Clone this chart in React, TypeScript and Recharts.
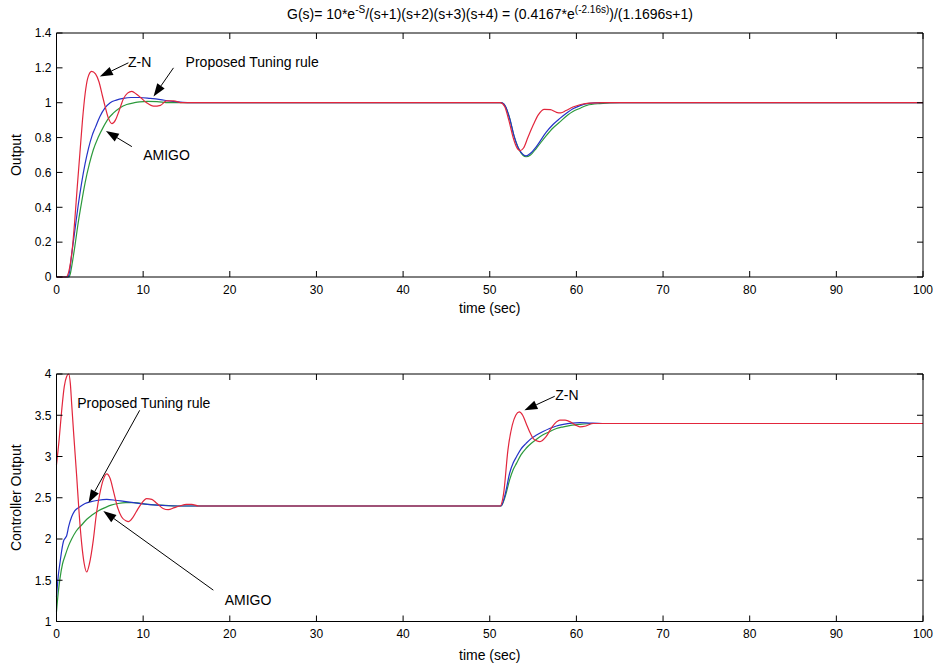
import React from 'react'
import { LineChart, Line, XAxis, YAxis, ReferenceLine, ReferenceDot } from 'recharts'

// time (sec) / value pairs
const outZN: [number, number][] = [
  [0, 0], [1.1, 0], [1.5, 0.05], [1.8, 0.15], [2.1, 0.32], [2.4, 0.52], [2.7, 0.71], [3.0, 0.9],
  [3.3, 1.05], [3.6, 1.14], [4.05, 1.18], [4.5, 1.165], [4.9, 1.12], [5.3, 1.04], [5.6, 0.98],
  [6.0, 0.91], [6.4, 0.88], [6.8, 0.9], [7.2, 0.95], [7.7, 1.02], [8.2, 1.055], [8.7, 1.065],
  [9.2, 1.05], [9.7, 1.03], [10.4, 1.0], [11.2, 0.98], [12.0, 0.985], [12.7, 1.01], [13.5, 1.01],
  [14.5, 1.0], [51.2, 1.0], [51.7, 0.98], [52.2, 0.9], [52.7, 0.8], [53.1, 0.745], [53.5, 0.725],
  [53.9, 0.74], [54.4, 0.8], [55.0, 0.87], [55.6, 0.93], [56.3, 0.962], [57.0, 0.96], [57.7, 0.945],
  [58.2, 0.942], [58.8, 0.955], [59.6, 0.975], [60.5, 0.99], [61.5, 0.998], [63, 1.0], [100, 1.0],
]
const outProposed: [number, number][] = [
  [0, 0], [1.3, 0], [1.5, 0.03], [1.75, 0.13], [2.1, 0.26], [2.5, 0.41], [2.9, 0.54], [3.3, 0.65],
  [3.7, 0.74], [4.1, 0.81], [4.5, 0.86], [5.0, 0.92], [5.6, 0.97], [6.2, 1.0], [6.9, 1.015],
  [7.7, 1.025], [8.6, 1.03], [9.6, 1.03], [10.8, 1.025], [12, 1.018], [13, 1.01], [14, 1.005],
  [16, 1.0], [51.3, 1.0], [51.8, 0.98], [52.3, 0.91], [52.8, 0.81], [53.3, 0.74], [53.8, 0.705],
  [54.2, 0.695], [54.7, 0.71], [55.4, 0.75], [56.5, 0.83], [57.3, 0.875], [58.1, 0.91], [59.0, 0.945],
  [59.6, 0.965], [60.5, 0.985], [61.2, 0.995], [63, 1.0], [100, 1.0],
]
const outAmigo: [number, number][] = [
  [0, 0], [1.4, 0], [1.6, 0.02], [1.75, 0.06], [2.1, 0.17], [2.5, 0.31], [2.9, 0.43], [3.3, 0.54],
  [3.8, 0.65], [4.25, 0.73], [4.8, 0.8], [5.4, 0.86], [6.0, 0.91], [6.55, 0.94], [7.3, 0.97],
  [8.1, 0.99], [9.0, 1.0], [9.6, 1.005], [10.5, 1.008], [11.6, 1.006], [13, 1.0], [51.3, 1.0],
  [51.8, 0.98], [52.3, 0.91], [52.8, 0.81], [53.3, 0.74], [53.8, 0.7], [54.2, 0.69], [54.7, 0.7],
  [55.4, 0.74], [56.5, 0.81], [57.3, 0.855], [58.1, 0.89], [59.0, 0.93], [59.6, 0.95], [60.5, 0.97],
  [61.2, 0.985], [62.7, 0.995], [65, 1.0], [100, 1.0],
]

const ctrlZN: [number, number][] = [
  [0, 2.9], [0.3, 3.2], [0.6, 3.56], [0.9, 3.85], [1.17, 3.97], [1.4, 4.0], [1.6, 3.88], [1.75, 3.64],
  [2.0, 3.25], [2.33, 2.76], [2.6, 2.33], [2.9, 1.95], [3.2, 1.7], [3.48, 1.6], [3.8, 1.7],
  [4.25, 1.99], [4.6, 2.3], [5.0, 2.55], [5.4, 2.72], [5.8, 2.79], [6.2, 2.73], [6.55, 2.59],
  [7.0, 2.4], [7.5, 2.27], [8.0, 2.22], [8.3, 2.21], [8.8, 2.26], [9.2, 2.33], [9.8, 2.43],
  [10.4, 2.49], [11.0, 2.48], [11.6, 2.43], [12.3, 2.37], [12.9, 2.355], [13.6, 2.38], [14.2, 2.4],
  [15.0, 2.42], [15.6, 2.42], [16.4, 2.4], [51.2, 2.4], [51.6, 2.55], [52.1, 3.08], [52.6, 3.38],
  [53.0, 3.5], [53.4, 3.54], [53.8, 3.5], [54.2, 3.4], [54.6, 3.3], [55.0, 3.22], [55.4, 3.19],
  [55.8, 3.18], [56.5, 3.24], [57.2, 3.36], [58.1, 3.44], [58.7, 3.44], [59.3, 3.42], [59.9, 3.38],
  [60.4, 3.36], [61.1, 3.37], [61.9, 3.4], [63, 3.4], [100, 3.4],
]
const ctrlProposed: [number, number][] = [
  [0, 1.3], [0.2, 1.55], [0.4, 1.71], [0.6, 1.86], [0.8, 1.97], [1.0, 2.01], [1.17, 2.04], [1.4, 2.15],
  [1.75, 2.27], [2.1, 2.34], [2.7, 2.39], [3.3, 2.43], [3.9, 2.45], [4.8, 2.47], [5.8, 2.48],
  [6.8, 2.47], [7.8, 2.455], [8.9, 2.44], [10, 2.425], [11.5, 2.41], [13, 2.403], [15, 2.4],
  [51.3, 2.4], [51.8, 2.55], [52.3, 2.8], [52.7, 2.92], [53.1, 3.0], [53.6, 3.09], [54.2, 3.16],
  [54.8, 3.22], [55.4, 3.26], [56.1, 3.3], [56.9, 3.34], [57.7, 3.37], [58.5, 3.39], [59.5, 3.405],
  [60.4, 3.41], [61.5, 3.405], [63, 3.4], [100, 3.4],
]
const ctrlAmigo: [number, number][] = [
  [0, 1.12], [0.2, 1.35], [0.4, 1.52], [0.7, 1.7], [1.0, 1.8], [1.4, 1.92], [1.75, 2.0], [2.3, 2.1],
  [2.9, 2.17], [3.5, 2.24], [4.1, 2.29], [4.8, 2.34], [5.6, 2.38], [6.3, 2.41], [7.1, 2.43],
  [8.0, 2.44], [9.0, 2.44], [10.5, 2.42], [12, 2.41], [14, 2.4], [51.3, 2.4], [51.8, 2.52],
  [52.3, 2.72], [52.7, 2.84], [53.1, 2.92], [53.6, 3.02], [54.2, 3.1], [54.8, 3.16], [55.4, 3.21],
  [56.1, 3.26], [56.9, 3.3], [57.7, 3.34], [58.5, 3.36], [59.5, 3.38], [60.4, 3.39], [62, 3.4],
  [100, 3.4],
]

const timeTicks = [0, 10, 20, 30, 40, 50, 60, 70, 80, 90, 100]
const outTicks = [0, 0.2, 0.4, 0.6, 0.8, 1, 1.2, 1.4]
const ctrlTicks = [1, 1.5, 2, 2.5, 3, 3.5, 4]

// annotation text spot and arrow (tail -> head), in data units
type Note = { text: string; t: number; v: number; anchor: string; from: [number, number]; to: [number, number] }
const outNotes: Note[] = [
  { text: 'Z-N', t: 9.6, v: 1.235, anchor: 'middle', from: [8.3, 1.229], to: [5.0, 1.15] },
  { text: 'Proposed Tuning rule', t: 14.9, v: 1.235, anchor: 'start', from: [13.5, 1.2], to: [11.2, 1.035] },
  { text: 'AMIGO', t: 12.7, v: 0.7, anchor: 'middle', from: [8.7, 0.748], to: [5.7, 0.838] },
]
const ctrlNotes: Note[] = [
  { text: 'Proposed Tuning rule', t: 2.4, v: 3.65, anchor: 'start', from: [9.6, 3.56], to: [3.7, 2.44] },
  { text: 'AMIGO', t: 22.1, v: 1.26, anchor: 'middle', from: [18.1, 1.38], to: [5.4, 2.34] },
  { text: 'Z-N', t: 58.9, v: 3.75, anchor: 'middle', from: [57.5, 3.73], to: [54.0, 3.56] },
]

const RED = '#e2263c'
const BLUE = '#2433c8'
const GREEN = '#2c9a3c'
const FONT = '"Liberation Sans", Arial, sans-serif'

const toRows = (pts: [number, number][]) => pts.map(([t, v]) => ({ t, v }))

function Arrow(props: any) {
  const { x1, y1, x2, y2 } = props
  const ang = Math.atan2(y2 - y1, x2 - x1)
  const len = 13
  const w = 4.5
  const bx = x2 - len * Math.cos(ang)
  const by = y2 - len * Math.sin(ang)
  const px = -Math.sin(ang) * w
  const py = Math.cos(ang) * w
  return (
    <g>
      <line x1={x1} y1={y1} x2={bx} y2={by} stroke="#000" strokeWidth={1} />
      <polygon points={`${x2},${y2} ${bx + px},${by + py} ${bx - px},${by - py}`} fill="#000" />
    </g>
  )
}

function noteText(text: string, anchor: string) {
  return (p: any) => (
    <text x={p.cx} y={p.cy} textAnchor={anchor} dominantBaseline="central" fontSize={14} fontFamily={FONT} fill="#000">
      {text}
    </text>
  )
}

function yTitle(text: string) {
  return (p: any) => {
    const vb = p.viewBox
    const x = vb.x + 16
    const y = vb.y + vb.height / 2
    return (
      <text x={x} y={y} transform={`rotate(-90 ${x} ${y})`} textAnchor="middle" dominantBaseline="central" fontSize={14} fontFamily={FONT} fill="#000">
        {text}
      </text>
    )
  }
}

function xTitle(dy: number) {
  return (p: any) => {
    const vb = p.viewBox
    return (
      <text x={vb.x + vb.width / 2} y={vb.y + dy} textAnchor="middle" dominantBaseline="central" fontSize={14} fontFamily={FONT} fill="#000">
        time (sec)
      </text>
    )
  }
}

type PanelProps = {
  height: number
  top: number
  xAxisHeight: number
  yDomain: [number, number]
  yTicks: number[]
  yLabel: string
  xLabelDy: number
  amigo: [number, number][]
  proposed: [number, number][]
  zn: [number, number][]
  notes: Note[]
}

function Panel({ height, top, xAxisHeight, yDomain, yTicks, yLabel, xLabelDy, amigo, proposed, zn, notes }: PanelProps) {
  const tickStyle = { fontSize: 12, fontFamily: FONT, fill: '#000' }
  return (
    <LineChart width={937} height={height} margin={{ top: top - 1, right: 13, bottom: 0, left: 0 }}>
      <XAxis
        dataKey="t" type="number" domain={[0, 100]} ticks={timeTicks} height={xAxisHeight}
        tickSize={-6} tickMargin={14} tick={tickStyle} stroke="#000" label={xTitle(xLabelDy)}
      />
      {/* 1px top / right axes only draw the box edges with inward ticks */}
      <XAxis
        xAxisId="top" orientation="top" dataKey="t" type="number" domain={[0, 100]} ticks={timeTicks}
        height={1} tickSize={-6} tickFormatter={() => ''} stroke="#000"
      />
      <YAxis
        type="number" domain={yDomain} ticks={yTicks} width={56.5} tickSize={-6} tickMargin={11}
        tick={tickStyle} stroke="#000" label={yTitle(yLabel)}
      />
      <YAxis
        yAxisId="right" orientation="right" type="number" domain={yDomain} ticks={yTicks} width={1}
        tickSize={-6} tickFormatter={() => ''} stroke="#000"
      />
      <Line
        data={toRows(amigo)} dataKey="v" type="monotone" stroke={GREEN} strokeWidth={1.2}
        dot={false} activeDot={false} isAnimationActive={false}
      />
      <Line
        data={toRows(proposed)} dataKey="v" type="monotone" stroke={BLUE} strokeWidth={1.2}
        dot={false} activeDot={false} isAnimationActive={false}
      />
      <Line
        xAxisId="top" yAxisId="right" data={toRows(zn)} dataKey="v" type="monotone" stroke={RED}
        strokeWidth={1.2} dot={false} activeDot={false} isAnimationActive={false}
      />
      {notes.map((n, i) => (
        <ReferenceLine
          key={'a' + i} segment={[{ x: n.from[0], y: n.from[1] }, { x: n.to[0], y: n.to[1] }]}
          shape={Arrow} ifOverflow="visible"
        />
      ))}
      {notes.map((n, i) => (
        <ReferenceDot key={'t' + i} x={n.t} y={n.v} r={0} shape={noteText(n.text, n.anchor)} ifOverflow="visible" />
      ))}
    </LineChart>
  )
}

export default function App() {
  return (
    <div style={{ position: 'absolute', left: 0, top: 0, width: 937, height: 664, background: '#fff' }}>
      <div
        style={{
          position: 'absolute', left: 0, top: 4, width: 980, textAlign: 'center',
          fontSize: 14, fontFamily: FONT, color: '#000', whiteSpace: 'nowrap',
        }}
      >
        G(s)= 10*e<sup style={{ fontSize: 10 }}>-S</sup>/(s+1)(s+2)(s+3)(s+4) = (0.4167*e
        <sup style={{ fontSize: 10 }}>(-2.16s)</sup>)/(1.1696s+1)
      </div>
      <div style={{ position: 'absolute', left: 0, top: 0 }}>
        <Panel
          height={330} top={33} xAxisHeight={53} yDomain={[0, 1.4]} yTicks={outTicks} yLabel="Output"
          xLabelDy={31} amigo={outAmigo} proposed={outProposed} zn={outZN} notes={outNotes}
        />
      </div>
      <div style={{ position: 'absolute', left: 0, top: 340 }}>
        <Panel
          height={324} top={34} xAxisHeight={42.5} yDomain={[1, 4]} yTicks={ctrlTicks} yLabel="Controller Output"
          xLabelDy={33} amigo={ctrlAmigo} proposed={ctrlProposed} zn={ctrlZN} notes={ctrlNotes}
        />
      </div>
    </div>
  )
}
